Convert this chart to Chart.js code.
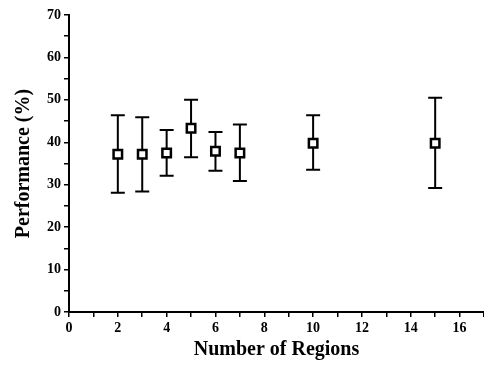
<!DOCTYPE html>
<html>
<head>
<meta charset="utf-8">
<script src="https://cdn.jsdelivr.net/npm/chart.js@4/dist/chart.umd.min.js"></script>
<style>
  html, body { margin: 0; padding: 0; background: #fff; }
  #wrap { width: 484px; height: 368px; }
</style>
</head>
<body>
<div id="wrap"><canvas id="perfChart" width="484" height="368"></canvas></div>
<script>
// valores
const regions = [2, 3, 4, 5, 6, 7, 10, 15];
const performance = [37.2, 37.2, 37.5, 43.3, 37.9, 37.5, 39.8, 39.8];
const upperBound = [46.4, 45.9, 42.9, 50.0, 42.4, 44.2, 46.4, 50.5];
const lowerBound = [28.1, 28.4, 32.1, 36.5, 33.3, 30.9, 33.5, 29.2];

const xTickLabels = [0, 2, 4, 6, 8, 10, 12, 14, 16];
const yTickLabels = [0, 10, 20, 30, 40, 50, 60, 70];

const serif = "'Liberation Serif', 'Times New Roman', serif";

// barras de erro desenhadas antes dos marcadores (o marcador branco cobre a linha)
const errorBars = {
    id: 'errorBars',
    beforeDatasetsDraw(chart) {
        const ctx = chart.ctx;
        const x = chart.scales.x;
        const y = chart.scales.y;
        ctx.save();
        ctx.strokeStyle = '#000';
        ctx.lineWidth = 2;
        regions.forEach((r, i) => {
            const px = x.getPixelForValue(r);
            const top = y.getPixelForValue(upperBound[i]);
            const bot = y.getPixelForValue(lowerBound[i]);
            ctx.beginPath();
            ctx.moveTo(px, top);
            ctx.lineTo(px, bot);
            ctx.moveTo(px - 7, top);
            ctx.lineTo(px + 7, top);
            ctx.moveTo(px - 7, bot);
            ctx.lineTo(px + 7, bot);
            ctx.stroke();
        });
        ctx.restore();
    }
};

const ctx = document.getElementById('perfChart').getContext('2d');

new Chart(ctx, {
    type: 'scatter',
    data: {
        datasets: [{
            data: regions.map((r, i) => ({ x: r, y: performance[i] })),
            pointStyle: 'rect',
            pointRadius: 6,
            pointBorderWidth: 2.5,
            borderColor: '#000',
            backgroundColor: '#fff'
        }]
    },
    options: {
        responsive: false,
        animation: false,
        // sem autoPadding: o eixo x encosta na borda direita
        layout: { autoPadding: false, padding: { top: 15, right: 0, left: 0, bottom: 0 } },
        plugins: {
            legend: { display: false },
            tooltip: { enabled: false }
        },
        scales: {
            x: {
                type: 'linear',
                min: 0,
                max: 17,
                afterFit: s => { s.height = 56; s.paddingRight = 0; },
                border: { display: true, color: '#000', width: 2 },
                grid: { drawOnChartArea: false, color: '#000', lineWidth: 1.5, tickLength: 5 },
                ticks: {
                    stepSize: 1,
                    autoSkip: false,
                    maxRotation: 0,
                    padding: 3,
                    color: '#000',
                    font: { family: serif, size: 14, weight: 'bold' },
                    callback: v => xTickLabels.includes(v) ? String(v) : ''
                },
                title: {
                    display: true,
                    text: 'Number of Regions',
                    color: '#000',
                    font: { family: serif, size: 20, weight: 'bold' },
                    padding: { top: 0, bottom: 6 }
                }
            },
            y: {
                min: 0,
                max: 70,
                afterFit: s => { s.width = 69; },
                border: { display: true, color: '#000', width: 2 },
                grid: { drawOnChartArea: false, color: '#000', lineWidth: 1.5, tickLength: 5 },
                ticks: {
                    stepSize: 5,
                    autoSkip: false,
                    padding: 3,
                    color: '#000',
                    font: { family: serif, size: 14, weight: 'bold' },
                    callback: v => yTickLabels.includes(v) ? String(v) : ''
                },
                title: {
                    display: true,
                    text: 'Performance (%)',
                    color: '#000',
                    font: { family: serif, size: 20, weight: 'bold' },
                    padding: { top: 12, bottom: 0 }
                }
            }
        }
    },
    plugins: [errorBars]
});
</script>
</body>
</html>
